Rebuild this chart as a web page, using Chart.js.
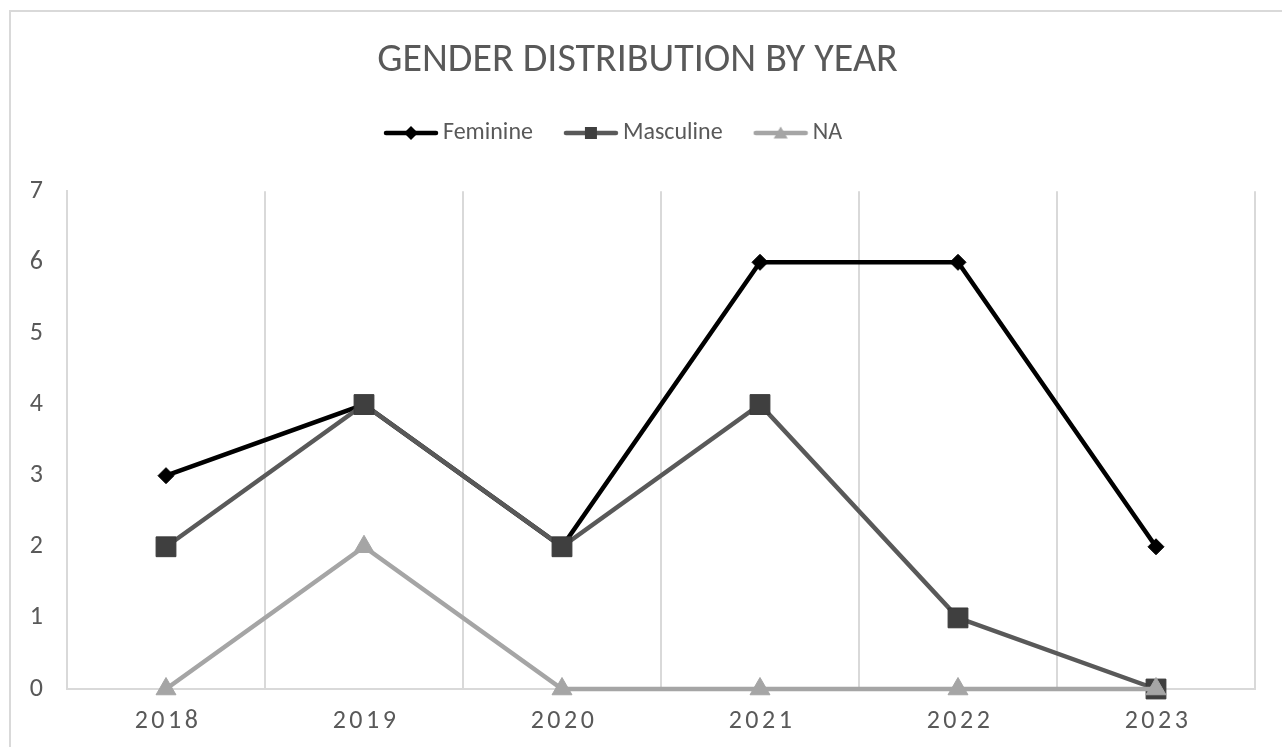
<!DOCTYPE html>
<html>
<head>
<meta charset="utf-8">
<script src="https://cdn.jsdelivr.net/npm/chart.js@4.4.1/dist/chart.umd.min.js"></script>
<style>
html,body{margin:0;padding:0;background:#ffffff;}
#wrap{width:1282px;height:747px;position:relative;}
</style>
</head>
<body>
<div id="wrap"><canvas id="c"></canvas></div>
<script>
// ---- data ----
const categories = ['2018', '2019', '2020', '2021', '2022', '2023'];
const feminine = [3, 4, 2, 6, 6, 2];
const masculine = [2, 4, 2, 4, 1, 0];
const naValues = [0, 2, 0, 0, 0, 0];
const seriesNames = ['Feminine', 'Masculine', 'NA'];
const yMin = 0, yMax = 7, yStep = 1;
const titleText = 'GENDER DISTRIBUTION BY YEAR';

// ---- styles ----
const FONT = "Carlito, 'Open Sans', sans-serif";
const TEXT = '#595959';
const GRID = '#d9d9d9';
const colors = ['#000000', '#595959', '#a5a5a5'];
const markerFill = ['#000000', '#3f3f3f', '#a5a5a5'];
const markerBorder = ['#000000', '#383838', '#a5a5a5'];
const styles = ['rectRot', 'rect', 'triangle'];

function legendIcon(i) {
  const c = document.createElement('canvas');
  c.width = 56; c.height = 20;
  const x = c.getContext('2d');
  x.strokeStyle = colors[i]; x.lineWidth = 4.5; x.lineCap = 'round';
  x.beginPath(); x.moveTo(3, 10); x.lineTo(53, 10); x.stroke();
  x.fillStyle = markerFill[i];
  x.beginPath();
  if (i === 0) { x.moveTo(28, 3); x.lineTo(35, 10); x.lineTo(28, 17); x.lineTo(21, 10); x.closePath(); }
  else if (i === 1) { x.rect(22, 4, 12, 12); }
  else { x.moveTo(28, 3.5); x.lineTo(35, 15.5); x.lineTo(21, 15.5); x.closePath(); }
  x.fill();
  return c;
}
const icons = [0, 1, 2].map(legendIcon);

const framePlugin = {
  id: 'frame',
  beforeDraw(chart) {
    const ctx = chart.ctx;
    ctx.save();
    ctx.fillStyle = '#ffffff';
    ctx.fillRect(0, 0, chart.width, chart.height);
    ctx.strokeStyle = GRID; ctx.lineWidth = 2;
    ctx.strokeRect(10, 11, chart.width + 50, chart.height + 50);
    ctx.restore();
  }
};

const tweakPlugin = {
  id: 'tweak',
  afterInit(chart) {
    const lg = chart.legend;
    const fit = lg.fit.bind(lg);
    lg.fit = function () { fit(); this.height = 108.2; };
    const ld = lg.draw.bind(lg);
    lg.draw = function () { const c = this.ctx; c.save(); c.translate(-11, 0); ld(); c.restore(); };
    const tb = chart.titleBlock;
    const td = tb.draw.bind(tb);
    tb.draw = function () { const c = this.ctx; c.save(); c.translate(10, 0); td(); c.restore(); };
  },
  beforeDraw(chart) {
    const xs = chart.scales.x;
    if (!xs._spaced) {
      const dl = xs.drawLabels.bind(xs);
      xs.drawLabels = function (area) { const c = this.ctx; c.save(); c.letterSpacing = '3.5px'; dl(area); c.restore(); };
      xs._spaced = true;
    }
  }
};

const datasets = [feminine, masculine, naValues].map((vals, i) => ({
  label: seriesNames[i],
  data: vals,
  borderColor: colors[i],
  backgroundColor: colors[i],
  borderWidth: 4.5,
  tension: 0,
  clip: false,
  pointStyle: styles[i],
  pointRadius: [8, 14, 11.5][i],
  pointHoverRadius: [8, 14, 11.5][i],
  pointBackgroundColor: markerFill[i],
  pointBorderColor: markerBorder[i],
  pointBorderWidth: 1,
  order: 3 - i
}));

new Chart(document.getElementById('c'), {
  type: 'line',
  data: { labels: categories, datasets },
  plugins: [framePlugin, tweakPlugin],
  options: {
    responsive: true,
    maintainAspectRatio: false,
    animation: false,
    layout: { padding: { top: 0, left: 0, right: 27, bottom: 0 } },
    plugins: {
      tooltip: { enabled: false },
      title: {
        display: true,
        text: titleText,
        color: TEXT,
        font: { family: FONT, size: 40, weight: 'normal' },
        padding: { top: 37, bottom: -2 }
      },
      legend: {
        display: true,
        position: 'top',
        labels: {
          color: TEXT,
          font: { family: FONT, size: 24 },
          usePointStyle: true,
          pointStyleWidth: 40,
          padding: 38,
          generateLabels(chart) {
            return chart.data.datasets.map((ds, i) => ({
              text: ds.label,
              fillStyle: colors[i],
              strokeStyle: colors[i],
              lineWidth: 0,
              pointStyle: icons[i],
              fontColor: TEXT,
              datasetIndex: i,
              hidden: !chart.isDatasetVisible(i)
            }));
          }
        }
      }
    },
    scales: {
      x: {
        offset: true,
        grid: { display: true, color: GRID, lineWidth: 2, offset: true, drawTicks: false },
        border: { display: true, color: GRID, width: 2 },
        ticks: { color: TEXT, font: { family: FONT, size: 26 }, padding: 17, labelOffset: 2, maxRotation: 0 },
        afterFit(s) { s.height = 58; }
      },
      y: {
        min: yMin, max: yMax,
        grid: { display: false, drawTicks: false },
        border: { display: true, color: GRID, width: 2 },
        ticks: { stepSize: yStep, color: TEXT, font: { family: FONT, size: 26 }, padding: 24 },
        afterFit(s) { s.width = 67; }
      }
    }
  }
});
</script>
</body>
</html>
